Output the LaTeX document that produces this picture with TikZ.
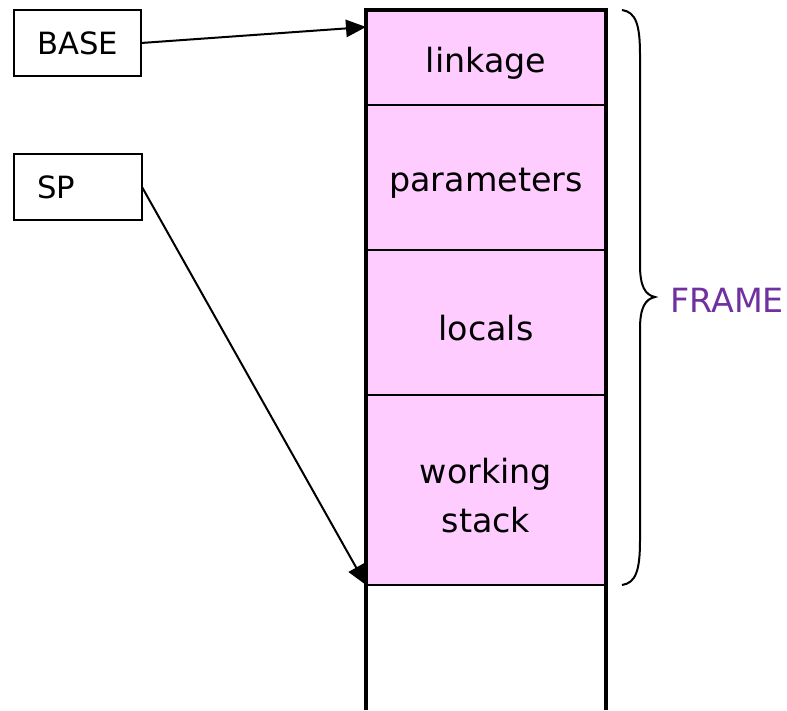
\documentclass[tikz,border=0pt]{standalone}
\usepackage{fontspec}
\setmainfont{DejaVu Sans}
\usetikzlibrary{arrows.meta}
\definecolor{cellpink}{HTML}{FFCCFF}
\definecolor{framepurple}{HTML}{7030A0}
\newcommand{\lowr}[1]{\raisebox{-4pt}[\height][\depth]{#1}}
\begin{document}
\begin{tikzpicture}[x=0.75pt,y=-0.75pt,
  regbox/.style={draw,line width=1.5pt,minimum width=127*0.75pt,minimum height=66*0.75pt,inner sep=0pt,outer sep=0pt,anchor=north west,font=\fontsize{23}{28}\selectfont},
  cell/.style={draw,fill=cellpink,line width=1.4pt,minimum width=240*0.75pt,inner sep=0pt,outer sep=0pt,anchor=north west,align=center,font=\fontsize{25}{37}\selectfont},
  ptr/.style={line width=1.5pt,-{Triangle[length=15pt,width=13pt]}},
  outer/.style={line width=3pt}]
\useasboundingbox (0,0) rectangle (787,710);
% registers
\node[regbox] (base) at (14,10) {BASE};
\node[regbox,minimum width=128*0.75pt,align=left,text width=82*0.75pt] (sp) at (14,154) {SP};
% frame cells
\node[cell,minimum height=95*0.75pt] (link) at (366,10) {\lowr{linkage}};
\node[cell,minimum height=145*0.75pt] (par) at (366,105) {\lowr{parameters}};
\node[cell,minimum height=145*0.75pt] (loc) at (366,250) {\lowr{locals}};
\node[cell,minimum height=190*0.75pt] (work) at (366,395) {\lowr{working}\\\lowr{stack}};
% outer thick lines of the stack
\coordinate (lb) at (366,710);
\coordinate (rb) at (606,710);
\draw[outer] (lb) -- (link.north west) -- (link.north east) -- (rb);
% pointers
\coordinate (bt) at (366,27);
\draw[ptr] (base.east) -- (bt);
\draw[ptr] (sp.east) -- (work.south west);
% brace
\draw[line width=1.5pt] (622,10) .. controls (636,12) and (640,25) .. (640,55) -- (640,265)
  .. controls (640,286) and (645,295) .. (655,297)
  .. controls (645,299) and (640,308) .. (640,329) -- (640,540)
  .. controls (640,570) and (636,583) .. (622,585);
\node[text=framepurple,font=\fontsize{25}{30}\selectfont] (frame) at (727,300) {FRAME};
\end{tikzpicture}
\end{document}
